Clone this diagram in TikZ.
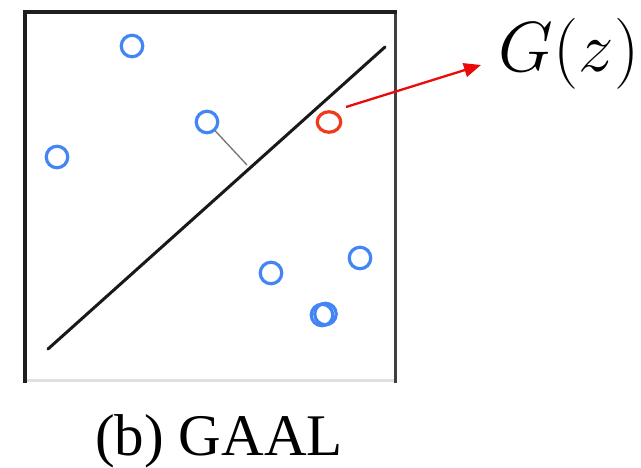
\documentclass[tikz,border=0pt]{standalone}
\usepackage{fontspec}
\newfontfamily\capfont{Liberation Serif}
\usetikzlibrary{arrows.meta,shapes.geometric}
\definecolor{ptblue}{RGB}{66,133,244}
\definecolor{ptred}{RGB}{240,58,30}
\definecolor{arrred}{RGB}{235,10,10}
\tikzset{
  pt/.style={draw=ptblue, line width=3.2pt, circle, minimum size=21.5pt, inner sep=0pt},
  gpt/.style={draw=ptred, line width=3.2pt, ellipse, minimum width=23.5pt, minimum height=20.5pt, inner sep=0pt},
  sep/.style={line width=3pt, black!90, line cap=round},
  dist/.style={line width=1.3pt, black!55},
  gen/.style={line width=2.3pt, arrred, -{Triangle[length=17pt,width=14pt]}},
}
\begin{document}
\begin{tikzpicture}[x=1pt,y=-1pt]
\useasboundingbox (0,0) rectangle (641,467);
\fill[white] (0,0) rectangle (641,467);
% frame
\draw[line width=3pt, black!12] (25,380.5) -- (395.5,380.5);
\draw[line width=2.5pt, black!75] (395.5,12) -- (395.5,383);
\draw[line width=4.5pt, black!88] (25,383) -- (25,12) -- (397,12);
% separating line
\coordinate (l1) at (48,349);
\coordinate (l2) at (385,47);
\draw[sep] (l1) -- (l2);
\coordinate (foot) at (247,165);
% points
\node[pt] (p1) at (132,46) {};
\node[pt] (p2) at (207,122) {};
\node[pt] (p3) at (57,157) {};
\node[pt] (p4) at (271,273) {};
\node[pt] (p5) at (360,258) {};
\node[pt] (p6) at (322,315) {};
\node[pt] (p7) at (325.5,314) {};
\node[gpt] (g) at (329,122) {};
\draw[dist] (p2) -- (foot);
% label
\node[inner sep=0pt, anchor=center, scale=2.85] (gz) at (569,54) {\Huge $G(z)$};
\coordinate (tip) at (481,65);
\coordinate (as) at (346,107);
\draw[gen] (as) -- (tip);
% caption
\node[inner sep=0pt, anchor=base] (cap) at (219,455) {\capfont\fontsize{59}{68}\selectfont (b) GAAL};
\end{tikzpicture}
\end{document}
